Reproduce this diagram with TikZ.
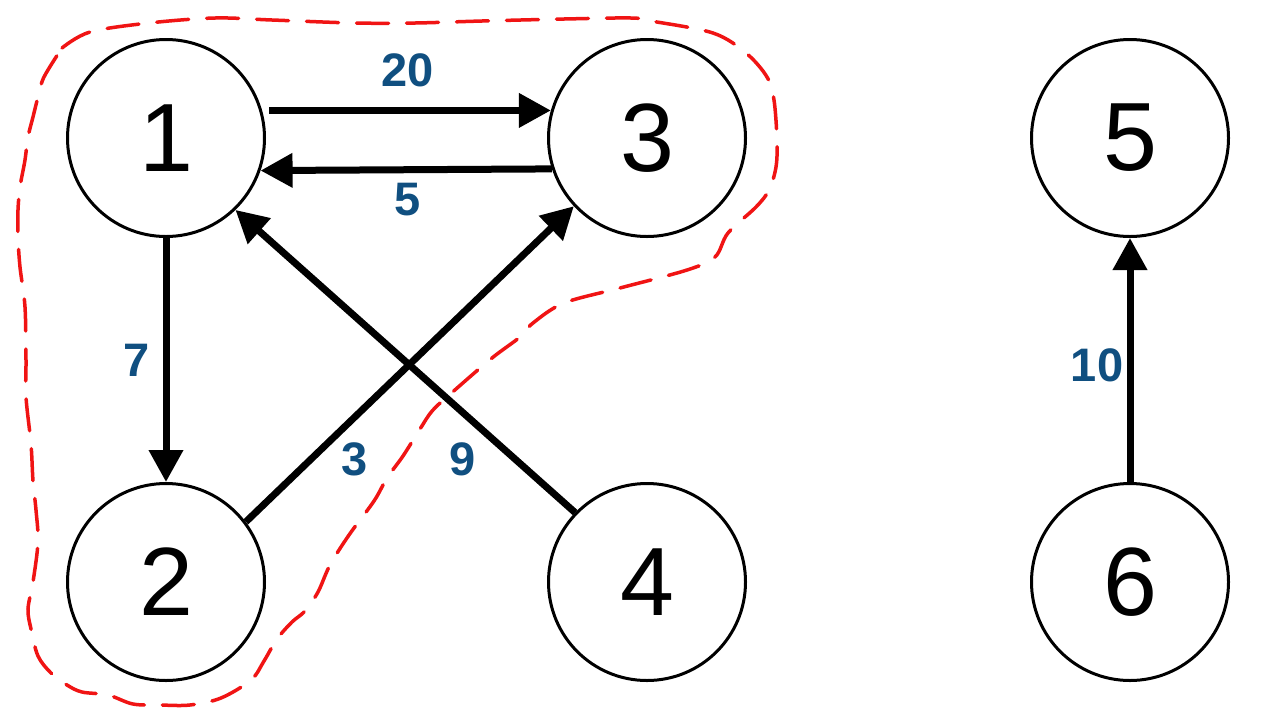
\documentclass[tikz,border=0pt]{standalone}
\usepackage{fontspec}
\setmainfont{Liberation Sans}
\usetikzlibrary{arrows.meta}
\definecolor{lblblue}{RGB}{16,79,128}
\definecolor{hullred}{RGB}{240,20,20}
\begin{document}
\begin{tikzpicture}[x=1pt,y=-1pt,
  vert/.style={circle,draw=black,line width=3pt,minimum size=197pt,inner sep=0pt,
    font=\fontsize{97}{97}\selectfont},
  edge/.style={line width=7pt,-{Triangle[length=32pt,width=33pt]}},
  wlabel/.style={text=lblblue,font=\bfseries\fontsize{47}{47}\selectfont,inner sep=0pt},
  hull/.style={draw=hullred,line width=3.5pt,dash pattern=on 32pt off 18pt,line cap=round}]
\useasboundingbox (0,0) rectangle (1280,724);
\fill[white] (0,0) rectangle (1280,724);
\node[vert] (n1) at (166,138) {1};
\node[vert] (n3) at (647,138) {3};
\node[vert] (n2) at (166,582) {2};
\node[vert] (n4) at (647,582) {4};
\node[vert] (n5) at (1130,138) {5};
\node[vert] (n6) at (1130,582) {6};
\draw[edge,shorten <=7pt] (n1.16) -- (n3.164);
\draw[edge] (n3.198.7) -- (n1.341.3);
\draw[edge] (n1.south) -- (n2.north);
\draw[edge] (n2.37) -- (n3.223);
\draw[edge] (n4.136) -- (n1.314);
\draw[edge] (n6.north) -- (n5.south);
\node[wlabel] (w20) at (408,70) {20};
\node[wlabel] (w5) at (408,200) {5};
\node[wlabel] (w7) at (137,360) {7};
\node[wlabel] (w3) at (355,459) {3};
\node[wlabel] (w9) at (463,459) {9};
\node[wlabel] (w10) at (1097,365) {10};
\draw[hull] plot[smooth,tension=0.55] coordinates {
 (62,48) (90,32) (149,23) (215,18) (272,20) (354,23) (415,23) (482,21) (564,19) (631,18) (651,21) (713,33) (746,53) (767,77) (774,100) (777,140) (776,167) (769,190) (756,207) (728,233) (715,257) (687,270) (620,288) (564,303) (533,323) (520,337) (492,358) (456,389) (433,410) (420,429) (403,456) (387,478) (374,501) (349,535) (330,565) (318,592) (305,611) (292,622) (277,639) (264,661) (251,680) (221,698) (190,705) (160,705) (133,704) (108,695) (82,692) (67,685) (51,673) (38,656) (31,629) (28,609) (33,582) (38,542) (36,510) (33,481) (31,444) (26,397) (26,360) (25,307) (20,267) (18,237) (18,210) (20,187) (25,160) (28,137) (33,117) (38,97) (44,77) (62,48)};
\end{tikzpicture}
\end{document}
